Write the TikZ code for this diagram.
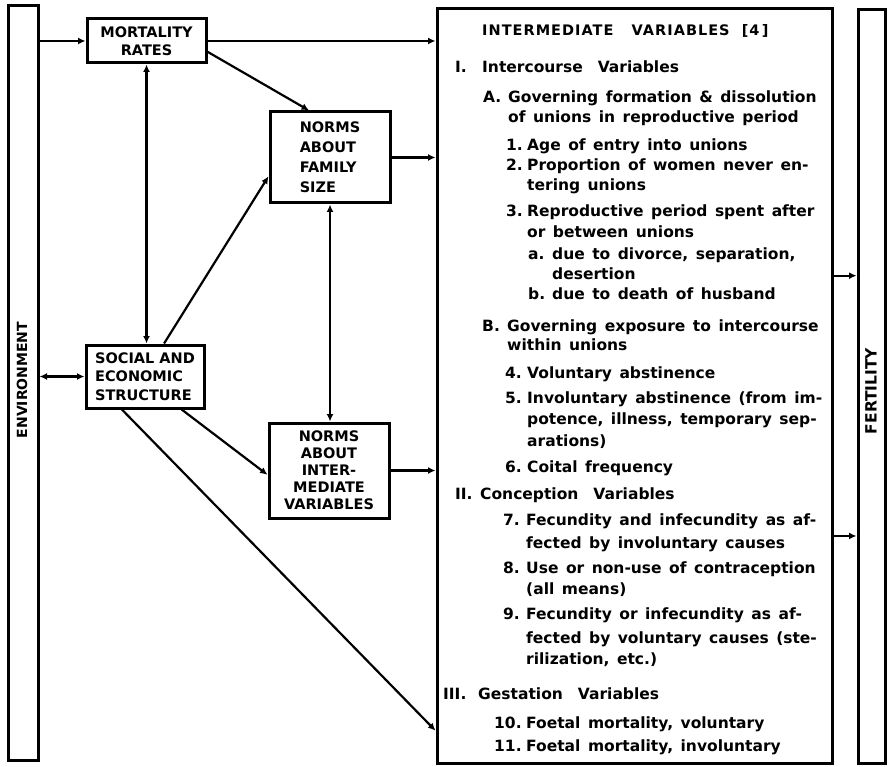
\documentclass[tikz,border=0pt]{standalone}
\usepackage{fontspec}
\setmainfont{DejaVu Sans}
\usetikzlibrary{arrows.meta,calc}
\newcommand\ivf{\fontsize{15.5}{19}\selectfont\bfseries\spaceskip=7.5pt plus 1pt\relax}
\newcommand\bxf{\fontsize{14.5}{18.5}\selectfont\bfseries}
\begin{document}
\begin{tikzpicture}[x=1pt,y=-1pt,
  bx/.style={draw, line width=3pt, inner sep=0pt, font=\bxf},
  bar/.style={draw, line width=3pt, inner sep=0pt},
  arr/.style={-{Latex[length=7.5pt,width=7pt]}, line width=2.2pt},
  darr/.style={{Latex[length=7.5pt,width=7pt]}-{Latex[length=7.5pt,width=7pt]}, line width=2.2pt},
  ln/.style={anchor=base west, inner sep=0pt, font=\ivf},
  vt/.style={rotate=90, inner sep=0pt, font=\fontsize{14}{16}\selectfont\bfseries}]
\useasboundingbox (0,0) rectangle (890,767);

% bars and boxes
\node[bar, minimum width=30pt, minimum height=754pt] (env) at (23,383) {};
\node[vt] (envt) at (22,380) {ENVIRONMENT};
\node[bar, minimum width=27pt, minimum height=753pt] (fert) at (871.5,386.5) {};
\node[vt, font=\fontsize{15.5}{16}\selectfont\bfseries] (fertt) at (871,391) {FERTILITY};
\node[bar, minimum width=395pt, minimum height=754pt] (inter) at (634.5,386) {};

\node[bx, align=center, minimum width=119pt, minimum height=44pt] (mort) at (146.5,41) {MORTALITY\\RATES};
\node[bx, align=left, minimum width=120pt, minimum height=91pt] (fam) at (330,157.5) {NORMS\\[1.5pt]ABOUT\\[1.5pt]FAMILY\\[1.5pt]SIZE};
\node[bx, align=left, minimum width=118pt, minimum height=63pt] (soc) at (145,376.5) {SOCIAL AND\\ECONOMIC\\STRUCTURE};
\node[bx, align=center, minimum width=120pt, minimum height=95pt] (nint) at (329,470.5) {NORMS\\[-1.5pt]ABOUT\\[-1.5pt]INTER-\\[-1.5pt]MEDIATE\\[-1.5pt]VARIABLES};

% connectors
\draw[arr] (mort.west -| env.east) -- (mort.west);
\draw[arr] (mort.east) -- (mort.east -| inter.west);
\draw[arr] (mort.-10) -- (fam.114);
\draw[darr] (mort.south) -- (mort.south |- soc.north);
\draw[arr] (soc.60) -- (fam.197);
\draw[darr] (fam.south) -- (fam.south |- nint.north);
\draw[arr] (fam.east) -- (fam.east -| inter.west);
\draw[darr] (soc.west -| env.east) -- (soc.west);
\draw[arr] (soc.-42) -- (nint.184);
\draw[arr] (soc.235) -- (inter.240);
\draw[arr] (nint.east) -- (nint.east -| inter.west);
\draw[arr] (inter.29.3) -- (inter.29.3 -| fert.west);
\draw[arr] (inter.-37.2) -- (inter.-37.2 -| fert.west);

% intermediate variables text
\node[ln, font=\fontsize{14.5}{19}\selectfont\bfseries\addfontfeatures{LetterSpace=7}] (l0) at (482,36) {INTERMEDIATE\ \ \ VARIABLES\ \ [4\,]};
\node[ln] (n1) at (455,73) {I.};
\node[ln] (l1) at (482,73) {Intercourse\ \ Variables};
\node[ln] (nA) at (483,103) {A.};
\node[ln] (l2) at (508,103) {Governing formation \& dissolution};
\node[ln] (l3) at (508,123) {of unions in reproductive period};
\node[ln] (n2) at (506,151) {1.};
\node[ln] (l4) at (527,151) {Age of entry into unions};
\node[ln] (n3) at (506,171) {2.};
\node[ln] (l5) at (527,171) {Proportion of women never en-};
\node[ln] (l6) at (527,191) {tering unions};
\node[ln] (n4) at (506,216) {3.};
\node[ln] (l7) at (527,216) {Reproductive period spent after};
\node[ln] (l8) at (527,237) {or between unions};
\node[ln] (na) at (528,259) {a.};
\node[ln] (l9) at (552,259) {due to divorce, separation,};
\node[ln] (l10) at (552,279) {desertion};
\node[ln] (nb) at (528,299) {b.};
\node[ln] (l11) at (552,299) {due to death of husband};
\node[ln] (nB) at (482,331) {B.};
\node[ln] (l12) at (507,331) {Governing exposure to intercourse};
\node[ln] (l13) at (507,350) {within unions};
\node[ln] (n5) at (505,378) {4.};
\node[ln] (l14) at (527,378) {Voluntary abstinence};
\node[ln] (n6) at (505,403) {5.};
\node[ln] (l15) at (527,403) {Involuntary abstinence (from im-};
\node[ln] (l16) at (527,424) {potence, illness, temporary sep-};
\node[ln] (l17) at (527,446) {arations)};
\node[ln] (n7) at (505,472) {6.};
\node[ln] (l18) at (527,472) {Coital frequency};
\node[ln] (nII) at (455,499) {II.};
\node[ln] (l19) at (480,499) {Conception\ \ Variables};
\node[ln] (n8) at (503,525) {7.};
\node[ln] (l20) at (526,525) {Fecundity and infecundity as af-};
\node[ln] (l21) at (526,548) {fected by involuntary causes};
\node[ln] (n9) at (503,573) {8.};
\node[ln] (l22) at (526,573) {Use or non-use of contraception};
\node[ln] (l23) at (526,594) {(all means)};
\node[ln] (n10) at (503,619) {9.};
\node[ln] (l24) at (526,619) {Fecundity or infecundity as af-};
\node[ln] (l25) at (526,643) {fected by voluntary causes (ste-};
\node[ln] (l26) at (526,664) {rilization, etc.)};
\node[ln] (nIII) at (443,699) {III.};
\node[ln] (l27) at (478,699) {Gestation\ \ Variables};
\node[ln] (n11) at (494,728) {10.};
\node[ln] (l28) at (526,728) {Foetal mortality, voluntary};
\node[ln] (n12) at (494,751) {11.};
\node[ln] (l29) at (526,751) {Foetal mortality, involuntary};
\end{tikzpicture}
\end{document}
